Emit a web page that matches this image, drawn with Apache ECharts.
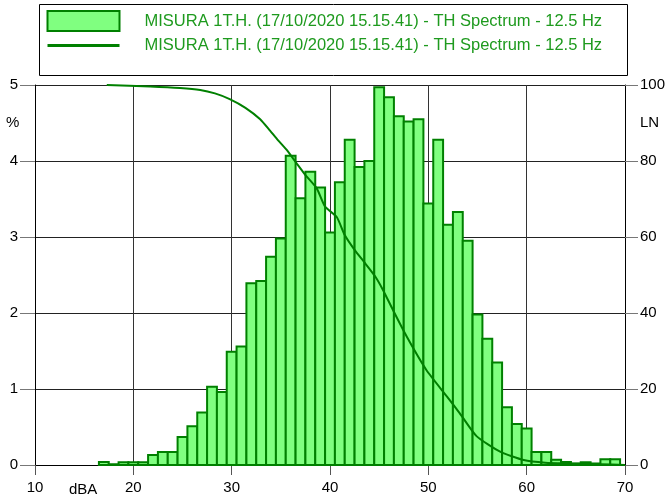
<!DOCTYPE html>
<html>
<head>
<meta charset="utf-8">
<script src="https://cdn.jsdelivr.net/npm/echarts@6/dist/echarts.min.js"></script>
<style>html,body{margin:0;padding:0;background:#fff;}#c{width:669px;height:496px;}</style>
</head>
<body>
<div id="c"></div>
<script>
const seriesName = 'MISURA 1T.H. (17/10/2020 15.15.41) - TH Spectrum - 12.5 Hz';
const levels = [17,18,19,20,21,22,23,24,25,26,27,28,29,30,31,32,33,34,35,36,37,38,39,40,41,42,43,44,45,46,47,48,49,50,51,52,53,54,55,56,57,58,59,60,61,62,63,64,65,66,67,68,69];
const percent = [0.04,0.01,0.035,0.035,0.035,0.13,0.17,0.17,0.37,0.51,0.69,1.03,0.96,1.49,1.56,2.39,2.42,2.74,2.98,4.07,3.51,3.86,3.65,3.06,3.72,4.28,3.92,4.0,4.97,4.84,4.59,4.52,4.55,3.44,4.28,3.16,3.33,2.95,1.98,1.66,1.35,0.76,0.54,0.48,0.17,0.17,0.07,0.04,0.02,0.035,0.02,0.075,0.075];
const lnLevels = [17.3,21.7,24.75,26.8,28.3,29.8,31.4,32.9,33.9,34.7,35.6,36.6,37.5,38.65,39.5,40.7,41.5,42.5,43.6,44.6,45.4,46.4,47.8,49.8,51.9,53.2,54.9,57.3,59.7,61.9,64.4,67.5,70];
const lnValues = [100,99.6,99.2,98.7,97.8,96.3,94,91,88,85.5,82.9,79.4,76.3,72.8,68,65.2,60.5,56.6,53,49.6,46,40.8,33.8,25,18,13.6,7.6,3.5,1.3,0.6,0.4,0.2,0];
const xTicks = [10,20,30,40,50,60,70];

const barData = levels.map((l,i)=>[l, percent[i]]);
const lineData = lnLevels.map((l,i)=>[l, lnValues[i]]);

const chart = echarts.init(document.getElementById('c'));
const font = 'Liberation Sans, Arial, sans-serif';
chart.setOption({
  animation:false,
  backgroundColor:'#fff',
  grid:{left:35,right:44,top:85,bottom:31,containLabel:false},
  legend:{
    orient:'vertical', left:41, top:5, itemWidth:72, itemHeight:20, itemGap:5,
    formatter:()=>seriesName,
    textStyle:{color:'#1e9a1e',fontSize:16.5,fontFamily:font,padding:[0,0,0,20]},
    data:[
      {name:'bars',icon:'rect',itemStyle:{color:'#80ff80',borderColor:'#008000',borderWidth:2}},
      {name:'ln',itemStyle:{color:'rgba(0,0,0,0)',borderWidth:0,opacity:0},lineStyle:{color:'#008000',width:3}}
    ],
    selectedMode:false
  },
  xAxis:{
    type:'value',min:10,max:70,interval:10,
    axisLine:{show:true,lineStyle:{color:'#000',width:1}},
    axisTick:{show:true,length:10,lineStyle:{color:'#555'}},
    axisLabel:{color:'#000',fontSize:15,fontFamily:font,margin:15,formatter:v=>xTicks.includes(v)?String(v):''},
    splitLine:{show:true,lineStyle:{color:'#333',width:1}}
  },
  yAxis:[
    {type:'value',min:0,max:5,interval:1,position:'left',
     axisLine:{show:true,lineStyle:{color:'#000'}},
     axisTick:{show:true,length:15,lineStyle:{color:'#777'}},
     axisLabel:{color:'#000',fontSize:15,fontFamily:font,margin:17},
     splitLine:{show:true,lineStyle:{color:'#222',width:1}}},
    {type:'value',min:0,max:100,interval:20,position:'right',
     axisLine:{show:true,lineStyle:{color:'#000'}},
     axisTick:{show:true,length:13,lineStyle:{color:'#777'}},
     axisLabel:{color:'#000',fontSize:15,fontFamily:font,margin:15},
     splitLine:{show:false}}
  ],
  series:[
    {name:'bars',type:'custom',yAxisIndex:0,data:barData,z:3,
     itemStyle:{color:'#80ff80',borderColor:'#008000',borderWidth:2},
     renderItem:function(params,api){
       const d=api.value(0), v=api.value(1);
       const p0=api.coord([d-0.5,v]); const p1=api.coord([d+0.5,0]);
       return {type:'rect',shape:{x:p0[0],y:p0[1],width:p1[0]-p0[0],height:p1[1]-p0[1]},
               style:{fill:'#80ff80',stroke:'#008000',lineWidth:2}};
     }},
    {name:'ln',type:'line',yAxisIndex:1,data:lineData,symbol:'none',smooth:0.2,z:4,
     lineStyle:{color:'#008000',width:2},itemStyle:{color:'#008000'}}
  ],
  graphic:[
    {type:'rect',left:37,top:2,shape:{width:588,height:71},style:{fill:'none',stroke:'#000',lineWidth:1},z:-1},
    {type:'text',left:69,top:482,style:{text:'dBA',fontSize:15,fontFamily:font,fill:'#000'}},
    {type:'text',left:6,top:115,style:{text:'%',fontSize:15,fontFamily:font,fill:'#000'}},
    {type:'text',left:640,top:115,style:{text:'LN',fontSize:15,fontFamily:font,fill:'#000'}}
  ]
});
</script>
</body>
</html>
